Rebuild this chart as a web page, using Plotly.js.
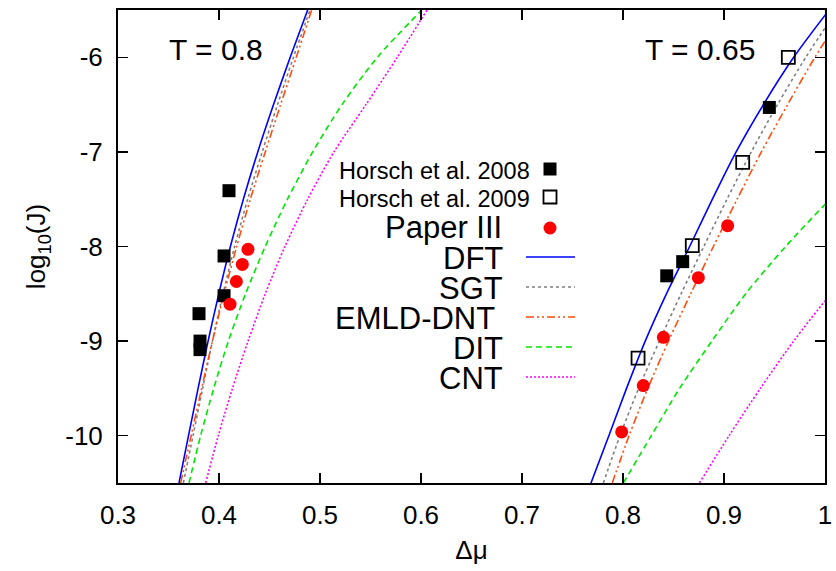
<!DOCTYPE html>
<html>
<head>
<meta charset="utf-8">
<script src="https://cdn.plot.ly/plotly-3.0.1.min.js"></script>
<style>html,body{margin:0;padding:0;background:#fff}#plot{width:836px;height:571px}</style>
</head>
<body>
<div id="plot"></div>
<script>
// ---------- data ----------
// log10(J) grid used for the model curves
const yGrid = [-10.5, -10, -9.5, -9, -8.5, -8, -7.5, -7, -6.5, -6, -5.5];

// T = 0.8 model curves (Δμ at each yGrid value)
const dft08  = [0.3604, 0.3698, 0.3793, 0.3892, 0.3998, 0.4113, 0.4241, 0.4384, 0.4540, 0.4705, 0.4878];
const sgt08  = [0.3647, 0.3743, 0.3838, 0.3935, 0.4040, 0.4155, 0.4284, 0.4428, 0.4580, 0.4737, 0.4901];
const emld08 = [0.3620, 0.3724, 0.3828, 0.3935, 0.4050, 0.4175, 0.4310, 0.4458, 0.4610, 0.4765, 0.4917];
const dit08  = [0.3703, 0.3818, 0.3948, 0.4093, 0.4263, 0.4458, 0.4678, 0.4928, 0.5218, 0.5568, 0.6008];
const cnt08  = [0.3868, 0.3993, 0.4133, 0.4288, 0.4458, 0.4653, 0.4878, 0.5138, 0.5455, 0.5765, 0.6060];

// T = 0.65 model curves
const dft065  = [0.7683, 0.7860, 0.8035, 0.8220, 0.8430, 0.8660, 0.8885, 0.9120, 0.9390, 0.9690, 1.0040];
const sgt065  = [0.7805, 0.7970, 0.8155, 0.8360, 0.8575, 0.8800, 0.9030, 0.9270, 0.9530, 0.9810, 1.0120];
const emld065 = [0.7894, 0.8060, 0.8245, 0.8450, 0.8670, 0.8895, 0.9130, 0.9370, 0.9630, 0.9900, 1.0200];
const yDit065 = [-10.5, -10, -9.5, -9, -8.5, -8, -7.5, -7];
const dit065  = [0.8003, 0.8280, 0.8560, 0.8880, 0.9215, 0.9610, 1.0050, 1.0520];
const yCnt065 = [-10.5, -10, -9.5, -9, -8.5, -8];
const cnt065  = [0.8756, 0.9050, 0.9360, 0.9690, 1.0060, 1.0500];

// Horsch et al. 2008 (filled squares)
const h2008x = [0.4099, 0.4050, 0.4050, 0.3802, 0.3812, 0.3812, 0.9449, 0.8591, 0.8433];
const h2008y = [-7.41, -8.10, -8.52, -8.71, -9.00, -9.09, -6.53, -8.16, -8.31];
// Horsch et al. 2009 (open squares)
const h2009x = [0.9637, 0.9185, 0.8686, 0.8149];
const h2009y = [-6.00, -7.11, -7.99, -9.18];
// Paper III (red circles)
const p3x = [0.4287, 0.4231, 0.4172, 0.4109, 0.9036, 0.8746, 0.8400, 0.8201, 0.7987];
const p3y = [-8.03, -8.19, -8.37, -8.61, -7.78, -8.33, -8.96, -9.47, -9.96];

// ticks
const xTickVals = [0.3, 0.4, 0.5, 0.6, 0.7, 0.8, 0.9, 1.0];
const xTickText = ['0.3', '0.4', '0.5', '0.6', '0.7', '0.8', '0.9', '1'];
const yTickVals = [-10, -9, -8, -7, -6];
const yTickText = ['-10', '-9', '-8', '-7', '-6'];

// legend labels
const legendNames = ['Horsch et al. 2008', 'Horsch et al. 2009', 'Paper III', 'DFT', 'SGT', 'EMLD-DNT', 'DIT', 'CNT'];

// ---------- styles ----------
const FONT = 'Liberation Sans, Arial, Helvetica, sans-serif';
const sty = {
  dft:  {color: '#0000ff', width: 1.6, dash: 'solid'},
  sgt:  {color: '#7f7f7f', width: 1.6, dash: '3px,3px'},
  emld: {color: '#ff4d0d', width: 1.6, dash: '8px,3px,2px,3px,2px,3px'},
  dit:  {color: '#00e600', width: 1.6, dash: '6px,4px'},
  cnt:  {color: '#ff00ff', width: 1.6, dash: '2px,2px'}
};

function curve(x, y, s) {
  return {x: x, y: y, type: 'scatter', mode: 'lines', line: Object.assign({shape: 'spline', smoothing: 0.8}, s),
          showlegend: false, hoverinfo: 'skip'};
}

const traces = [
  curve(dft08, yGrid, sty.dft), curve(sgt08, yGrid, sty.sgt), curve(emld08, yGrid, sty.emld),
  curve(dit08, yGrid, sty.dit), curve(cnt08, yGrid, sty.cnt),
  curve(dft065, yGrid, sty.dft), curve(sgt065, yGrid, sty.sgt), curve(emld065, yGrid, sty.emld),
  curve(dit065, yDit065, sty.dit), curve(cnt065, yCnt065, sty.cnt),
  {x: h2008x, y: h2008y, type: 'scatter', mode: 'markers', showlegend: false,
   marker: {symbol: 'square', size: 13, color: '#000000', line: {width: 0}}},
  {x: h2009x, y: h2009y, type: 'scatter', mode: 'markers', showlegend: false,
   marker: {symbol: 'square-open', size: 13, color: '#000000', line: {width: 1.8}}},
  {x: p3x, y: p3y, type: 'scatter', mode: 'markers', showlegend: false,
   marker: {symbol: 'circle', size: 13, color: '#ff0000', line: {width: 0}}}
];

// ---------- hand-made gnuplot-style legend (text right, key to its right) ----------
const L = 118, R = 825, T = 10, B = 483;
const px = v => (v - L) / (R - L);
const py = v => (B - v) / (B - T);

const legendRows = [
  {name: legendNames[0], right: 532, y: 170, size: 23.5, key: 'fsq'},
  {name: legendNames[1], right: 532, y: 198, size: 23.5, key: 'osq'},
  {name: legendNames[2], right: 504, y: 226, size: 31, key: 'circ'},
  {name: legendNames[3], right: 505, y: 257, size: 31, key: 'dft'},
  {name: legendNames[4], right: 505, y: 287, size: 31, key: 'sgt'},
  {name: legendNames[5], right: 497, y: 317, size: 31, key: 'emld'},
  {name: legendNames[6], right: 505, y: 347, size: 31, key: 'dit'},
  {name: legendNames[7], right: 505, y: 377, size: 31, key: 'cnt'}
];

const annotations = [];
const shapes = [];
legendRows.forEach(r => {
  annotations.push({xref: 'paper', yref: 'paper', x: px(r.right), y: py(r.y + 1), xanchor: 'right', yanchor: 'middle',
    text: r.name, showarrow: false, font: {family: FONT, size: r.size, color: '#000'}});
  const kx = 550, h = 6.5;
  const ky = r.key === 'circ' ? r.y + 2 : r.y - 1;
  if (r.key === 'fsq' || r.key === 'osq') {
    shapes.push({type: 'rect', xref: 'paper', yref: 'paper', x0: px(kx - h), x1: px(kx + h), y0: py(ky + h), y1: py(ky - h),
      fillcolor: r.key === 'fsq' ? '#000' : 'rgba(0,0,0,0)', line: {color: '#000', width: r.key === 'fsq' ? 0 : 1.8}});
  } else if (r.key === 'circ') {
    shapes.push({type: 'circle', xref: 'paper', yref: 'paper', x0: px(kx - h), x1: px(kx + h), y0: py(ky + h), y1: py(ky - h),
      fillcolor: '#ff0000', line: {color: '#ff0000', width: 0}});
  } else {
    const s = sty[r.key];
    shapes.push({type: 'line', xref: 'paper', yref: 'paper', x0: px(526), x1: px(575), y0: py(r.y), y1: py(r.y),
      line: {color: s.color, width: s.width, dash: s.dash}});
  }
});

annotations.push({xref: 'paper', yref: 'paper', x: px(167), y: py(49), xanchor: 'left', yanchor: 'middle',
  text: 'T = 0.8', showarrow: false, font: {family: FONT, size: 30, color: '#000'}});
annotations.push({xref: 'paper', yref: 'paper', x: px(643), y: py(49), xanchor: 'left', yanchor: 'middle',
  text: 'T = 0.65', showarrow: false, font: {family: FONT, size: 30, color: '#000'}});

const axisCommon = {
  showgrid: false, zeroline: false, showline: true, linecolor: '#000', linewidth: 2, mirror: 'allticks',
  ticks: 'inside', ticklen: 10, tickwidth: 1.5, tickcolor: '#000',
  tickfont: {family: FONT, size: 26, color: '#000'}
};

const layout = {
  width: 836, height: 571,
  margin: {l: 118, r: 11, t: 10, b: 88},
  paper_bgcolor: '#fff', plot_bgcolor: '#fff',
  showlegend: false,
  xaxis: Object.assign({}, axisCommon, {range: [0.3, 1.0], tickvals: xTickVals, ticktext: xTickText,
    ticklabelstandoff: 8,
    title: {text: 'Δμ', font: {family: FONT, size: 26, color: '#000'}, standoff: 12}}),
  yaxis: Object.assign({}, axisCommon, {range: [-10.5, -5.5], tickvals: yTickVals, ticktext: yTickText,
    ticklabelstandoff: 8,
    title: {text: 'log<sub>10</sub>(J)', font: {family: FONT, size: 26, color: '#000'}, standoff: 12}}),
  annotations: annotations,
  shapes: shapes
};

Plotly.newPlot('plot', traces, layout, {staticPlot: true, displayModeBar: false});
</script>
</body>
</html>
